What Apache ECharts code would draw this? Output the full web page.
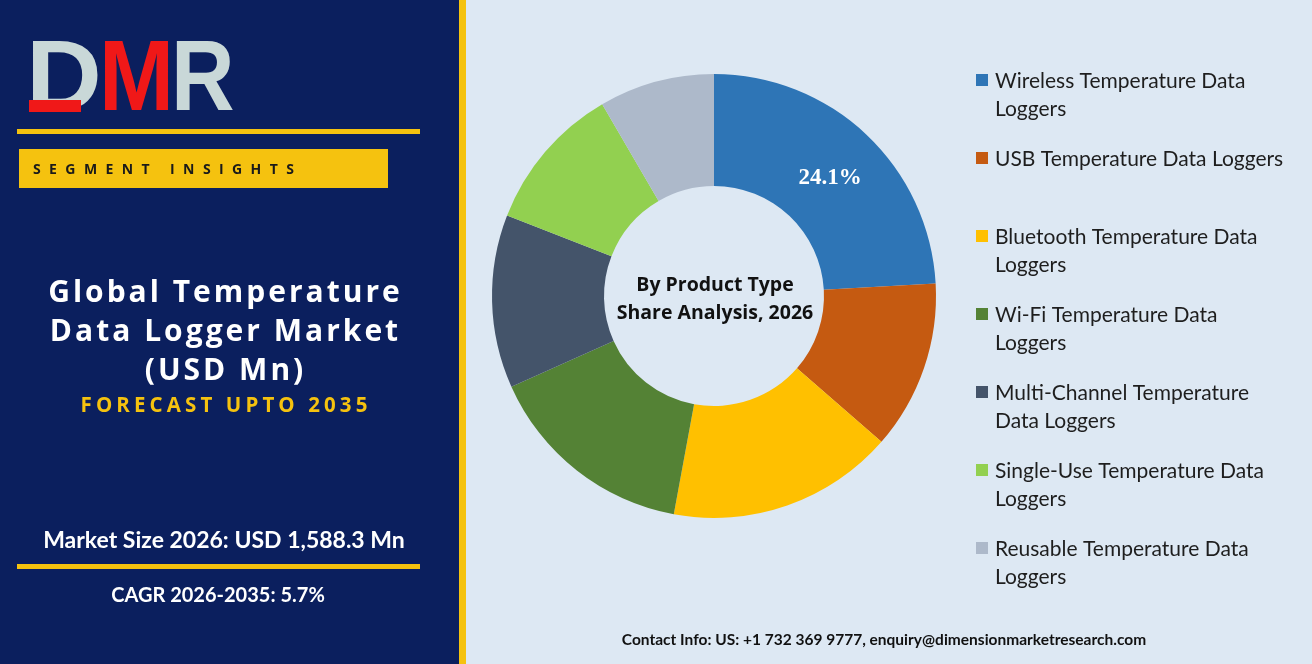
<!DOCTYPE html>
<html>
<head>
<meta charset="utf-8">
<script src="https://cdn.jsdelivr.net/npm/echarts@6/dist/echarts.min.js"></script>
<style>
html,body{margin:0;padding:0;background:#dde8f3;}
#chart{width:1312px;height:664px;}
</style>
</head>
<body>
<div id="chart"></div>
<script>
// product type segments, clockwise from 12 o'clock
var categories = [
	"Wireless Temperature Data Loggers",
	"USB Temperature Data Loggers",
	"Bluetooth Temperature Data Loggers",
	"Wi-Fi Temperature Data Loggers",
	"Multi-Channel Temperature Data Loggers",
	"Single-Use Temperature Data Loggers",
	"Reusable Temperature Data Loggers"
];
var legendLabels = [
	"Wireless Temperature Data\nLoggers",
	"USB Temperature Data Loggers",
	"Bluetooth Temperature Data\nLoggers",
	"Wi-Fi Temperature Data\nLoggers",
	"Multi-Channel Temperature\nData Loggers",
	"Single-Use Temperature Data\nLoggers",
	"Reusable Temperature Data\nLoggers"
];
var shares = [24.1, 12.3, 16.5, 15.4, 12.6, 10.7, 8.4];
var colors = ["#2e75b6", "#c55a11", "#ffc000", "#548235", "#44546a", "#92d050", "#adb9ca"];
var shownLabel = [true, false, false, false, false, false, false];

var titleLines = ["Global Temperature", "Data Logger Market", "(USD Mn)"];
var forecastText = "FORECAST UPTO 2035";
var segmentText = "SEGMENT INSIGHTS";
var marketSize = "Market Size 2026: USD 1,588.3 Mn";
var cagrText = "CAGR 2026-2035: 5.7%";
var centerText = "By Product Type\nShare Analysis, 2026";
var contactText = "Contact Info: US: +1 732 369 9777, enquiry@dimensionmarketresearch.com";

var NAVY = "#0b1f5e";
var GOLD = "#f5c20f";

// fake letter spacing with thin spaces
function spread(s, sep){
	return s.split("").join(sep);
}

var chart = echarts.init(document.getElementById("chart"));

var pieData = [];
for(var i=0;i<shares.length;i++){
	pieData.push({
		name:categories[i],
		value:shares[i],
		itemStyle:{color:colors[i]},
		label:{show:shownLabel[i]}
	});
}

var graphics = [
	{type:"rect", shape:{x:0,y:0,width:459,height:664}, style:{fill:NAVY}, z:0},
	{type:"rect", shape:{x:459,y:0,width:7,height:664}, style:{fill:GOLD}, z:0},
	// logo
	{type:"text", x:26, y:32, style:{text:"D", fill:"#c9d8d8", font:"bold 100px 'Liberation Sans'"}, scaleX:1.05, z:2},
	{type:"rect", shape:{x:29,y:100,width:52,height:12}, style:{fill:"#f01818"}, z:3},
	{type:"text", x:99, y:32, style:{text:"M", fill:"#f01818", font:"bold 100px 'Liberation Sans'"}, scaleX:0.9, z:3},
	{type:"text", x:171, y:32, style:{text:"R", fill:"#c9d8d8", font:"bold 100px 'Liberation Sans'"}, scaleX:0.88, z:2},
	{type:"rect", shape:{x:17,y:129,width:403,height:5}, style:{fill:GOLD}, z:1},
	{type:"rect", shape:{x:19,y:149,width:369,height:39}, style:{fill:GOLD}, z:1},
	{type:"text", x:33, y:170, style:{text:spread(segmentText, "\u2002\u200a"), fill:"#1a1a1a", font:"bold 14px 'Open Sans'", textVerticalAlign:"middle"}, z:2},
	{type:"text", x:224, y:406, style:{text:spread(forecastText, "\u200a\u200a"), fill:GOLD, font:"bold 20.5px 'Open Sans'", textAlign:"center", textVerticalAlign:"middle"}, z:2},
	{type:"text", x:224, y:541, style:{text:marketSize, fill:"#ffffff", font:"bold 23px Lato", textAlign:"center", textVerticalAlign:"middle"}, z:2},
	{type:"rect", shape:{x:17,y:564,width:403,height:5}, style:{fill:GOLD}, z:1},
	{type:"text", x:218, y:596, style:{text:cagrText, fill:"#ffffff", font:"bold 20px Lato", textAlign:"center", textVerticalAlign:"middle"}, z:2},
	{type:"text", x:715, y:299, style:{text:centerText, fill:"#111111", font:"bold 19.5px 'Open Sans'", lineHeight:28, textAlign:"center", textVerticalAlign:"middle"}, z:2},
	{type:"text", x:884, y:640, style:{text:contactText, fill:"#111111", font:"bold 15.5px Lato", textAlign:"center", textVerticalAlign:"middle"}, z:2}
];
var titleY = [293, 332, 371];
for(var t=0;t<titleLines.length;t++){
	graphics.push({type:"text", x:224, y:titleY[t],
		style:{text:spread(titleLines[t], "\u200a"), fill:"#ffffff", font:"bold 30px 'Open Sans'", textAlign:"center", textVerticalAlign:"middle"}, z:2});
}
// legend drawn as graphic so the swatch sits on the first text line
for(var k=0;k<legendLabels.length;k++){
	var ly = 80 + k*78;
	graphics.push({type:"rect", shape:{x:976,y:ly-6,width:12,height:12}, style:{fill:colors[k]}, z:2});
	graphics.push({type:"text", x:995, y:ly-13, style:{text:legendLabels[k], fill:"#1e1e1e", font:"21px Lato", lineHeight:28, textVerticalAlign:"top"}, z:2});
}

chart.setOption({
	backgroundColor:"#dde8f3",
	animation:false,
	graphic:graphics,
	series:[{
		type:"pie",
		center:[714, 296],
		radius:[110, 222],
		startAngle:90,
		clockwise:true,
		silent:true,
		label:{
			position:"inside",
			offset:[0,5],
			color:"#ffffff",
			fontFamily:"'Liberation Serif'",
			fontWeight:"bold",
			fontSize:23,
			formatter:function(p){ return p.value.toFixed(1) + "%"; }
		},
		labelLine:{show:false},
		itemStyle:{borderWidth:0},
		data:pieData
	}]
});
</script>
</body>
</html>
